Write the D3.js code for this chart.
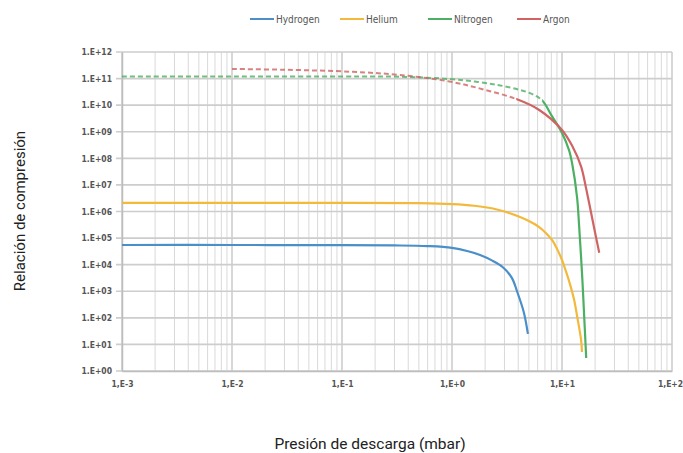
<!DOCTYPE html>
<html><head><meta charset="utf-8">
<script src="https://cdn.jsdelivr.net/npm/d3@7"></script>
<style>
body{margin:0;background:#fff;}
svg{display:block;}
</style></head>
<body>
<svg id="chart" width="683" height="453"></svg>
<script>
// ---- data ----
const seriesNames = ["Hydrogen", "Helium", "Nitrogen", "Argon"];
const seriesColors = ["#4a8fc8", "#f3b93a", "#4caf62", "#cf6462"];

const pH2 = [0.001, 0.01, 0.1, 0.3, 0.6, 1.0, 1.4, 1.8, 2.3, 2.9, 3.5, 3.9, 4.5, 4.9];
const rH2 = [5.5e4, 5.5e4, 5.4e4, 5.3e4, 5.0e4, 4.3e4, 3.2e4, 2.3e4, 1.45e4, 8.0e3, 3.2e3, 1.0e3, 1.6e2, 2.5e1];

const pHe = [0.001, 0.01, 0.1, 0.5, 1.0, 1.6, 2.3, 3.0, 4.1, 5.0, 6.2, 7.2, 8.2, 9.1, 10.0, 10.8, 11.6, 12.9, 13.7, 14.9, 15.2];
const rHe = [2.1e6, 2.1e6, 2.1e6, 2.05e6, 1.9e6, 1.65e6, 1.32e6, 1.0e6, 6.4e5, 4.4e5, 2.6e5, 1.5e5, 8.0e4, 3.6e4, 1.5e4, 6.0e3, 2.4e3, 4.7e2, 1.2e2, 15, 5.2];

const pN2 = [0.001, 0.01, 0.1, 0.333, 0.946, 1.7, 2.69, 4.0, 5.37, 6.61, 8.15, 10.0, 11.6, 12.4, 13.7, 14.3, 15.3, 15.9, 16.6];
const rN2 = [1.2e11, 1.2e11, 1.2e11, 1.18e11, 9.6e10, 7.5e10, 5.6e10, 3.9e10, 2.6e10, 1.5e10, 3.7e9, 9e8, 2e8, 6e7, 3.5e6, 3e5, 3.0e3, 1.2e2, 3.1];

const pAr = [0.01, 0.03, 0.125, 0.333, 0.946, 1.89, 3.84, 6.21, 10.0, 12.4, 14.9, 16.5, 18.4, 20.0, 21.8];
const rAr = [2.3e11, 2.15e11, 1.8e11, 1.37e11, 7.8e10, 4.0e10, 1.7e10, 6.6e9, 1.17e9, 2.9e8, 5.0e7, 8e6, 8.8e5, 1.6e5, 2.8e4];

// pressure up to which the curve is dashed (extrapolated part)
const dashedUntil = [null, null, 6.61, 3.84];

const xTickLabels = ["1,E-3", "1,E-2", "1,E-1", "1,E+0", "1,E+1", "1,E+2"];
const yTickLabels = ["1.E+00","1.E+01","1.E+02","1.E+03","1.E+04","1.E+05","1.E+06","1.E+07","1.E+08","1.E+09","1.E+10","1.E+11","1.E+12"];

const xTitle = "Presión de descarga (mbar)";
const yTitle = "Relación de compresión";

// ---- layout ----
const svg = d3.select("#chart");
const L = 122, R = 672, T = 52, B = 371;
const tickFont = "'Liberation Sans Narrow','DejaVu Sans Condensed',sans-serif";

const x = d3.scaleLog().domain([1e-3, 1e2]).range([L, R]);
const y = d3.scaleLog().domain([1, 1e12]).range([B, T]);

const xMajor = d3.range(-3, 3).map(e => Math.pow(10, e));
const xMinor = [];
for (let e = -3; e < 2; e++) for (let k = 2; k <= 9; k++) xMinor.push(k * Math.pow(10, e));
const yMajor = d3.range(0, 13).map(e => Math.pow(10, e));

const grid = svg.append("g");
grid.selectAll(".xmin").data(xMinor).join("line")
  .attr("x1", d => x(d)).attr("x2", d => x(d)).attr("y1", T).attr("y2", B)
  .attr("stroke", "#d9d9d9").attr("stroke-width", 1);
grid.selectAll(".xmaj").data(xMajor).join("line")
  .attr("x1", d => x(d)).attr("x2", d => x(d)).attr("y1", T).attr("y2", B)
  .attr("stroke", "#cacaca").attr("stroke-width", 1.5);
grid.selectAll(".ymaj").data(yMajor).join("line")
  .attr("x1", L - 6).attr("x2", R).attr("y1", d => y(d)).attr("y2", d => y(d))
  .attr("stroke", "#cdcdcd").attr("stroke-width", 1.6);

// axes
const xAxis = d3.axisBottom(x).tickValues(xMajor).tickSize(0)
  .tickFormat((d, i) => xTickLabels[i]);
const gx = svg.append("g").attr("transform", `translate(0,${B})`).call(xAxis);
gx.select(".domain").attr("stroke", "#bdbdbd").attr("stroke-width", 1.5);
gx.selectAll("text").attr("dy", "0").attr("y", 16)
  .attr("font-family", tickFont).attr("font-size", 8.5).attr("font-weight", "bold").attr("fill", "#555");
gx.selectAll(".tick").filter(d => d === 100).select("text").attr("x", -2);

const yAxis = d3.axisLeft(y).tickValues(yMajor).tickSize(0)
  .tickFormat((d, i) => yTickLabels[i]);
const gy = svg.append("g").attr("transform", `translate(${L},0)`).call(yAxis);
gy.select(".domain").attr("stroke", "#bdbdbd").attr("stroke-width", 1.5);
gy.selectAll("text").attr("x", -10)
  .attr("font-family", tickFont).attr("font-size", 8.5).attr("font-weight", "bold").attr("fill", "#555");

// ---- series ----
const allP = [pH2, pHe, pN2, pAr];
const allR = [rH2, rHe, rN2, rAr];
const line = d3.line().x(d => x(d[0])).y(d => y(d[1])).curve(d3.curveCatmullRom.alpha(0.5));

const defs = svg.append("defs");
allP.forEach((ps, si) => {
  const pts = ps.map((p, i) => [p, allR[si][i]]);
  const cut = dashedUntil[si];
  const d = line(pts);
  if (cut !== null) {
    const cx = x(cut);
    defs.append("clipPath").attr("id", "cl" + si).append("rect")
      .attr("x", 0).attr("y", 0).attr("width", cx).attr("height", 453);
    defs.append("clipPath").attr("id", "cr" + si).append("rect")
      .attr("x", cx).attr("y", 0).attr("width", 683 - cx).attr("height", 453);
    svg.append("path").attr("d", d).attr("clip-path", `url(#cl${si})`)
      .attr("fill", "none").attr("stroke", seriesColors[si]).attr("stroke-width", 2)
      .attr("stroke-dasharray", "5,3").attr("opacity", 0.8);
    svg.append("path").attr("d", d).attr("clip-path", `url(#cr${si})`)
      .attr("fill", "none").attr("stroke", seriesColors[si]).attr("stroke-width", 2.2);
  } else {
    svg.append("path").attr("d", d)
      .attr("fill", "none").attr("stroke", seriesColors[si]).attr("stroke-width", 2.2);
  }
});

// ---- legend ----
const legendX = [250, 340, 428, 517];
const lg = svg.append("g");
seriesNames.forEach((n, i) => {
  lg.append("line").attr("x1", legendX[i]).attr("x2", legendX[i] + 24)
    .attr("y1", 19).attr("y2", 19).attr("stroke", seriesColors[i]).attr("stroke-width", 2);
  lg.append("text").attr("x", legendX[i] + 26).attr("y", 22.5)
    .attr("font-family", tickFont).attr("font-size", 10).attr("fill", "#555").text(n);
});

// ---- titles ----
svg.append("text").attr("x", 370).attr("y", 449).attr("text-anchor", "middle")
  .attr("font-family", "Roboto, 'Open Sans', sans-serif").attr("font-size", 15.5)
  .attr("fill", "#222").text(xTitle);
svg.append("text").attr("transform", "translate(25,211) rotate(-90)").attr("text-anchor", "middle")
  .attr("font-family", "Roboto, 'Open Sans', sans-serif").attr("font-size", 15)
  .attr("fill", "#222").text(yTitle);
</script>
</body></html>
